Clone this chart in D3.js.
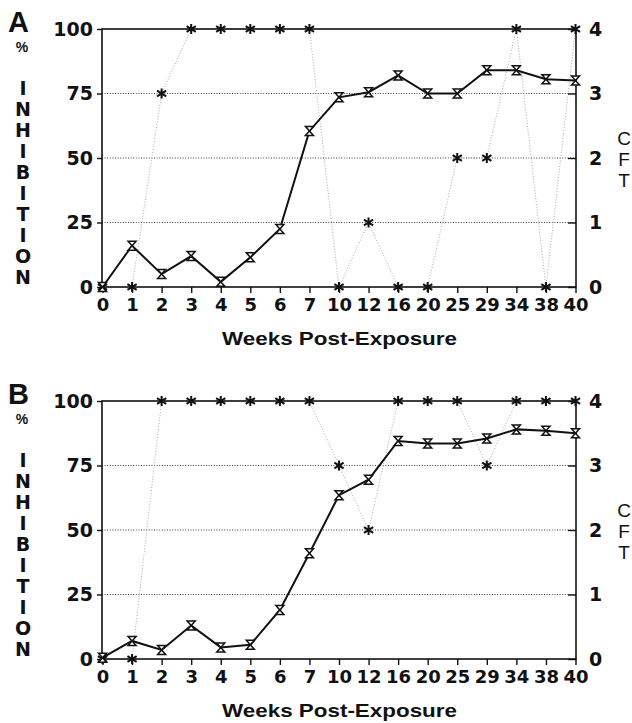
<!DOCTYPE html>
<html><head><meta charset="utf-8">
<script src="https://cdn.jsdelivr.net/npm/d3@7"></script>
<style>body{margin:0;background:#fff}svg{display:block}</style>
</head><body>
<script>
const weeks = ["0","1","2","3","4","5","6","7","10","12","16","20","25","29","34","38","40"];
const inhibitionA = [0,16,5,12,2,11.5,22.5,60.5,73.5,75.5,82,75,75,84,84,80.5,80];
const cftA = [0,0,3,4,4,4,4,4,0,1,0,0,2,2,4,0,4];
const inhibitionB = [0.5,7,3.5,13,4.5,5.5,19,41,63.5,69.5,84.5,83.5,83.5,85.5,89,88.5,87.5];
const cftB = [0,0,4,4,4,4,4,4,3,2,4,4,4,3,4,4,4];
const leftTicks = [0,25,50,75,100];
const rightTicks = [0,1,2,3,4];
const yLetters = ["I","N","H","I","B","I","T","I","O","N"];
const xTitle = "Weeks Post-Exposure";

const W = 632, H = 723;
const svg = d3.select("body").append("svg").attr("width", W).attr("height", H);

const x = d3.scalePoint().domain(weeks).range([102.5, 575.5]).padding(0);
const numFont = "DejaVu Sans, sans-serif";
const txtFont = "Liberation Sans, Arial, sans-serif";

const starPath = "M0,-5V5M-4.6,-2.9L4.6,2.9M-4.6,2.9L4.6,-2.9";
const hourglass = "M-4,-4.5H4L-4,4.5H4Z";

function panel(top, letter, inhib, cft) {
  const bottom = top + 258;
  const yL = d3.scaleLinear().domain([0,100]).range([bottom, top]);
  const yR = d3.scaleLinear().domain([0,4]).range([bottom, top]);
  const g = svg.append("g");

  g.selectAll(".grid").data([25,50,75]).join("line")
    .attr("x1", 102).attr("x2", 576)
    .attr("y1", d => yL(d)).attr("y2", d => yL(d))
    .attr("stroke", "#444").attr("stroke-width", 1).attr("stroke-dasharray", "1,1.6");

  const cftLine = d3.line().x((d,i) => x(weeks[i])).y(d => yR(d));
  g.append("path").datum(cft).attr("d", cftLine)
    .attr("fill", "none").attr("stroke", "#aaa").attr("stroke-width", 1)
    .attr("stroke-dasharray", "1,1.8");

  g.append("rect").attr("x", 102).attr("y", top).attr("width", 474).attr("height", 258)
    .attr("fill", "none").attr("stroke", "#111").attr("stroke-width", 1.6);

  const xAxis = d3.axisBottom(x).tickSize(6).tickPadding(5);
  const ax = g.append("g").attr("transform", `translate(0,${bottom})`).call(xAxis);
  ax.select(".domain").remove();
  ax.selectAll(".tick line").attr("stroke", "#111").attr("stroke-width", 1.4);
  ax.selectAll(".tick text").attr("font-family", numFont).attr("font-weight", "bold")
    .attr("font-size", 18).attr("fill", "#111").attr("dy", "0.74em");

  const lAxis = d3.axisLeft(yL).tickValues(leftTicks).tickSize(5).tickPadding(4);
  const al = g.append("g").attr("transform", "translate(102,0)").call(lAxis);
  al.select(".domain").remove();
  al.selectAll(".tick line").attr("stroke", "#111").attr("stroke-width", 1.4);
  al.selectAll(".tick text").attr("font-family", numFont).attr("font-weight", "bold")
    .attr("font-size", 19).attr("fill", "#111");

  const rAxis = d3.axisRight(yR).tickValues(rightTicks).tickFormat(d3.format("d"))
    .tickSizeInner(-8).tickSizeOuter(0).tickPadding(13);
  const ar = g.append("g").attr("transform", "translate(576,0)").call(rAxis);
  ar.select(".domain").remove();
  ar.selectAll(".tick line").attr("stroke", "#111").attr("stroke-width", 1.4);
  ar.selectAll(".tick text").attr("font-family", numFont).attr("font-weight", "bold")
    .attr("font-size", 19).attr("fill", "#111");

  g.selectAll(".star").data(cft).join("path")
    .attr("transform", (d,i) => `translate(${x(weeks[i])},${yR(d)})`)
    .attr("d", starPath).attr("fill", "none").attr("stroke", "#111").attr("stroke-width", 2);

  const line = d3.line().x((d,i) => x(weeks[i])).y(d => yL(d));
  g.append("path").datum(inhib).attr("d", line)
    .attr("fill", "none").attr("stroke", "#111").attr("stroke-width", 2);
  g.selectAll(".hg").data(inhib).join("path")
    .attr("transform", (d,i) => `translate(${x(weeks[i])},${yL(d)})`)
    .attr("d", hourglass).attr("fill", "#fff").attr("stroke", "#111").attr("stroke-width", 1.5);

  g.append("text").attr("x", 8).attr("y", top + 3).text(letter)
    .attr("font-family", txtFont).attr("font-weight", "bold").attr("font-size", 29).attr("fill", "#111");
  g.append("text").attr("x", 22).attr("y", top + 23).attr("text-anchor", "middle").text("%")
    .attr("font-family", txtFont).attr("font-weight", "bold").attr("font-size", 14).attr("fill", "#111");
  g.selectAll(".vl").data(yLetters).join("text")
    .attr("x", 23).attr("y", (d,i) => top + 66 + i * 21).attr("text-anchor", "middle")
    .text(d => d).attr("font-family", numFont).attr("font-weight", "bold")
    .attr("font-size", 19).attr("fill", "#111");
  g.selectAll(".cl").data(["C","F","T"]).join("text")
    .attr("x", 624).attr("y", (d,i) => top + 116 + i * 21).attr("text-anchor", "middle")
    .text(d => d).attr("font-family", txtFont).attr("font-size", 19).attr("fill", "#111");
  g.append("text").attr("x", 222).attr("y", bottom + 58).text(xTitle)
    .attr("textLength", 235).attr("lengthAdjust", "spacingAndGlyphs")
    .attr("font-family", txtFont).attr("font-weight", "bold").attr("font-size", 19).attr("fill", "#111");
}

panel(29, "A", inhibitionA, cftA);
panel(401, "B", inhibitionB, cftB);
</script>
</body></html>
